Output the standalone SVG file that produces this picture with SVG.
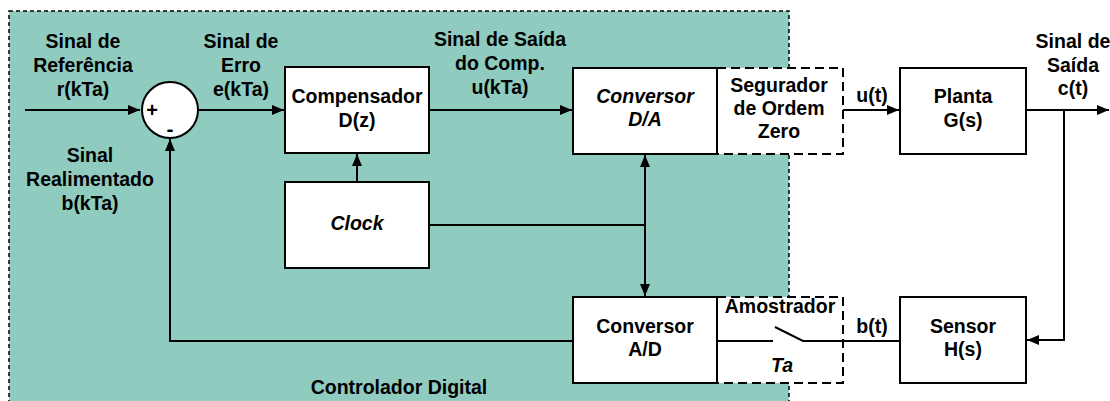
<svg xmlns="http://www.w3.org/2000/svg" width="1110" height="401" viewBox="0 0 1110 401">
<style>
text{font-family:"Liberation Sans",Arial,sans-serif;font-weight:bold;font-size:19.5px;fill:#000;text-anchor:middle}
.it{font-style:italic}
.box{fill:#fff;stroke:#000;stroke-width:2}
.dbox{fill:#fff;stroke:#000;stroke-width:2;stroke-dasharray:9 5}
.ln{fill:none;stroke:#000;stroke-width:2}
</style>
<defs>
<marker id="ah" viewBox="0 0 12 10" refX="12" refY="5" markerWidth="12" markerHeight="10" markerUnits="userSpaceOnUse" orient="auto-start-reverse">
<path d="M0,0 L12,5 L0,10 Z" fill="#000"/>
</marker>
</defs>
<rect width="1110" height="401" fill="#fff"/>
<g id="controlador-digital">
<rect x="9" y="11" width="780" height="400" fill="#8fcbbf" stroke="#000" stroke-width="1.5" stroke-dasharray="4 3"/>
<text x="399" y="394">Controlador Digital</text>
</g>
<g id="connectors">
<path class="ln" d="M25,110 H140" marker-end="url(#ah)"/>
<path class="ln" d="M198,110 H284" marker-end="url(#ah)"/>
<path class="ln" d="M429,110 H572" marker-end="url(#ah)"/>
<path class="ln" d="M843,110 H899" marker-end="url(#ah)"/>
<path class="ln" d="M1026,110 H1109" marker-end="url(#ah)"/>
<path class="ln" d="M1064,110 V340 H1027" marker-end="url(#ah)"/>
<path class="ln" d="M357,182 V154" marker-end="url(#ah)"/>
<path class="ln" d="M429,225 H645"/>
<path class="ln" d="M645,155 V296" marker-start="url(#ah)" marker-end="url(#ah)"/>
<path class="ln" d="M573,341 H170 V139" marker-end="url(#ah)"/>
<path class="ln" d="M900,341 H803"/>
</g>
<g id="somador">
<circle cx="170" cy="110" r="28" fill="#fff" stroke="#000" stroke-width="2"/>
<text x="152" y="117" style="font-size:20px">+</text>
<text x="170" y="136" style="font-size:21px">-</text>
</g>
<g id="label-referencia">
<text x="83" y="48">Sinal de</text>
<text x="83" y="72">Referência</text>
<text x="83" y="96">r(kTa)</text>
</g>
<g id="label-erro">
<text x="241" y="48">Sinal de</text>
<text x="241" y="72">Erro</text>
<text x="241" y="96">e(kTa)</text>
</g>
<g id="label-realimentado">
<text x="90" y="162">Sinal</text>
<text x="90" y="186">Realimentado</text>
<text x="90" y="210">b(kTa)</text>
</g>
<g id="label-saida-comp">
<text x="500" y="46">Sinal de Saída</text>
<text x="500" y="70">do Comp.</text>
<text x="500" y="94">u(kTa)</text>
</g>
<g id="compensador">
<rect class="box" x="285" y="67" width="144" height="86"/>
<text x="357" y="103">Compensador</text>
<text x="357" y="127">D(z)</text>
</g>
<g id="clock">
<rect class="box" x="285" y="182" width="144" height="86"/>
<text class="it" x="357" y="230">Clock</text>
</g>
<g id="segurador">
<rect class="dbox" x="717" y="68" width="126" height="86"/>
<text x="779" y="92">Segurador</text>
<text x="779" y="115">de Ordem</text>
<text x="779" y="138">Zero</text>
</g>
<g id="conversor-da">
<rect class="box" x="573" y="68" width="144" height="86"/>
<text class="it" x="645" y="103">Conversor</text>
<text class="it" x="645" y="126">D/A</text>
</g>
<g id="amostrador">
<rect class="dbox" x="717" y="297" width="126" height="86"/>
<text x="780" y="313">Amostrador</text>
<path class="ln" d="M717,341 H773 M775,327 L803,341 H843"/>
<text class="it" x="782" y="372">Ta</text>
</g>
<g id="conversor-ad">
<rect class="box" x="573" y="297" width="144" height="86"/>
<text x="645" y="333">Conversor</text>
<text x="645" y="356">A/D</text>
</g>
<g id="label-ut">
<text x="872" y="102">u(t)</text>
</g>
<g id="label-bt">
<text x="872" y="333">b(t)</text>
</g>
<g id="planta">
<rect class="box" x="900" y="68" width="126" height="86"/>
<text x="963" y="103">Planta</text>
<text x="963" y="127">G(s)</text>
</g>
<g id="sensor">
<rect class="box" x="900" y="297" width="126" height="86"/>
<text x="963" y="333">Sensor</text>
<text x="963" y="356">H(s)</text>
</g>
<g id="label-saida">
<text x="1073" y="48">Sinal de</text>
<text x="1073" y="72">Saída</text>
<text x="1073" y="95">c(t)</text>
</g>
</svg>
